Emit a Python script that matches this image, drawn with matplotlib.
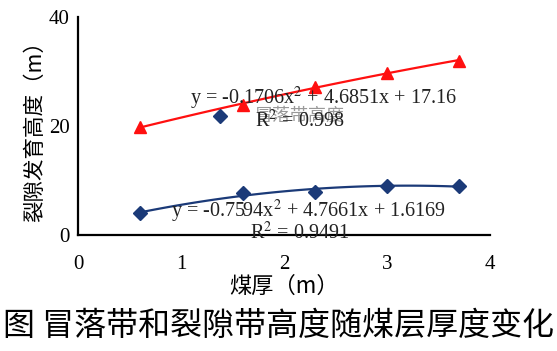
import numpy as np
import matplotlib
matplotlib.use("Agg")
import matplotlib.pyplot as plt

plt.rcParams['font.family'] = ['Liberation Serif', 'Noto Sans CJK SC', 'DejaVu Sans']
plt.rcParams['mathtext.fontset'] = 'stix'

# data
thick = [0.6, 1.6, 2.3, 3.0, 3.7]
caved = [4.0, 7.8, 8.0, 9.0, 9.0]        # 冒落带高度
fract = [19.8, 23.9, 27.1, 29.8, 32.0]   # 裂隙带高度

eq_fract = "y = -0.1706x$^2$ + 4.6851x + 17.16"
r2_fract = "R$^2$ = 0.998"
eq_caved = "y = -0.7594x$^2$ + 4.7661x + 1.6169"
r2_caved = "R$^2$ = 0.9491"

red = '#FF1010'
navy = '#1B3A78'

fig = plt.figure(figsize=(5.57, 3.51), dpi=100)
ax = fig.add_axes([0.140, 0.330, 0.740, 0.622])

xs = np.linspace(min(thick), max(thick), 100)
pf = np.polyfit(thick, fract, 2)
pc = np.polyfit(thick, caved, 2)
ax.plot(xs, np.polyval(pf, xs), color=red, lw=1.6, zorder=2)
ax.plot(xs, np.polyval(pc, xs), color=navy, lw=1.6, zorder=2)
ax.plot(thick, fract, ls='none', marker='^', ms=9, color=red, zorder=3)
ax.plot(thick, caved, ls='none', marker='D', ms=7, color=navy, zorder=3)

# legend-like label (partially hidden in the original)
ax.plot([1.38], [21.8], ls='none', marker='D', ms=7, color=navy)
ax.text(1.72, 21.8, "冒落带高度", color='#808080', fontsize=13,
        family=['Noto Sans CJK SC'], va='center', ha='left', alpha=0.8)

ax.text(2.38, 25.0, eq_fract, fontsize=14.5, ha='center', va='center', color='#222222')
ax.text(2.15, 20.9, r2_fract, fontsize=14.5, ha='center', va='center', color='#222222')
ax.text(2.24, 4.3, eq_caved, fontsize=14.5, ha='center', va='center', color='#222222')
ax.text(2.15, 0.3, r2_caved, fontsize=14.5, ha='center', va='center', color='#222222')

ax.set_xlim(0, 4)
ax.set_ylim(0, 40)
ax.set_xticks([0, 1, 2, 3, 4])
ax.set_yticks([0, 20, 40])
ax.tick_params(length=0, labelsize=15, pad=14)
ax.tick_params(axis='y', pad=6)
for s in ['top', 'right']:
    ax.spines[s].set_visible(False)
for s in ['left', 'bottom']:
    ax.spines[s].set_linewidth(1.6)
    ax.spines[s].set_color('black')

ax.set_xlabel("煤厚（m）", fontsize=16, family=['Noto Sans CJK SC'], labelpad=1)
ax.set_ylabel("裂隙发育高度（m）", fontsize=15.5, family=['Noto Sans CJK SC'], labelpad=2)

fig.text(0.5, 0.07, "图 冒落带和裂隙带高度随煤层厚度变化", fontsize=23,
         family=['Noto Sans CJK SC'], ha='center', va='center')

fig.savefig("out.png", dpi=100)
